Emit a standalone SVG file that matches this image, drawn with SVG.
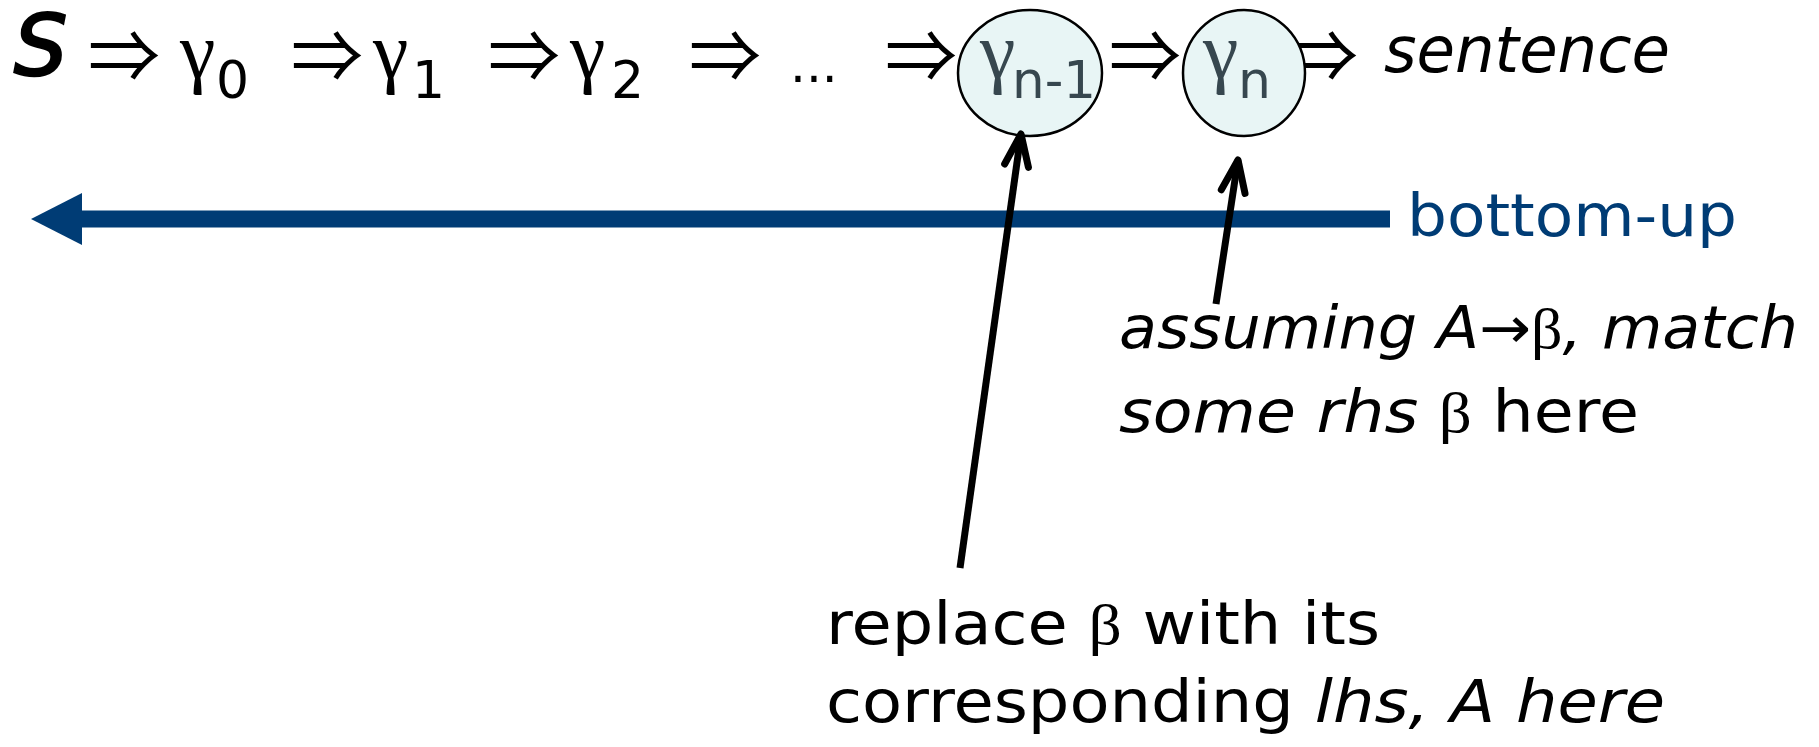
<svg xmlns="http://www.w3.org/2000/svg" width="1819" height="747" viewBox="0 0 1819 747">
<style>
.t{font-family:"DejaVu Sans",sans-serif;fill:#000}
.i{font-style:italic}
.g{font-family:"Liberation Serif","DejaVu Serif",serif}
.arr{font-family:"Noto Sans CJK JP","DejaVu Sans",sans-serif;font-size:72px;fill:#000}
.node{fill:#e8f5f5;stroke:#000;stroke-width:2.5}
.gn{fill:#37474f}
</style>
<defs>
<marker id="vh" markerUnits="userSpaceOnUse" markerWidth="80" markerHeight="80" viewBox="-40 -40 80 80" refX="0" refY="0" orient="auto">
<path d="M-32 -12 L0 0 L-32 12" fill="none" stroke="#000" stroke-width="7" stroke-linecap="round" stroke-linejoin="round"/>
</marker>
</defs>
<rect width="1819" height="747" fill="#fff"/>
<g id="derivation">
<text class="t i" x="14" y="75" font-size="84" stroke="#000" stroke-width="2.5">S</text>
<text class="arr" x="88" y="82">⇒</text>
<text class="g" x="180" y="78" font-size="80">γ</text><text class="t" x="216" y="98" font-size="52">0</text>
<text class="arr" x="291" y="82">⇒</text>
<text class="g" x="373" y="78" font-size="80">γ</text><text class="t" x="412" y="98" font-size="52">1</text>
<text class="arr" x="488" y="82">⇒</text>
<text class="g" x="570" y="78" font-size="80">γ</text><text class="t" x="611" y="98" font-size="52">2</text>
<text class="arr" x="689" y="82">⇒</text>
<text class="t" x="790" y="82" font-size="50">...</text>
<text class="arr" x="885" y="82">⇒</text>
<text class="arr" x="1109" y="82">⇒</text>
<text class="arr" x="1286" y="82">⇒</text>
<text class="t i" x="1384" y="72" font-size="64" textLength="286" lengthAdjust="spacingAndGlyphs">sentence</text>
</g>
<g id="node-gamma-n-1">
<ellipse class="node" cx="1030" cy="73" rx="72" ry="63"/>
<text class="g gn" x="980" y="78" font-size="80">γ</text><text class="t gn" x="1012" y="98" font-size="52" textLength="84" lengthAdjust="spacingAndGlyphs">n-1</text>
</g>
<g id="node-gamma-n">
<ellipse class="node" cx="1244" cy="73" rx="61" ry="63"/>
<text class="g gn" x="1203" y="78" font-size="80">γ</text><text class="t gn" x="1238" y="98" font-size="52">n</text>
</g>
<g id="bottom-up">
<line x1="1390" y1="219" x2="80" y2="219" stroke="#003c75" stroke-width="17"/>
<polygon points="31,219 82,193 82,245" fill="#003c75"/>
<text class="t" x="1407" y="236" font-size="58" style="fill:#003c75" textLength="330" lengthAdjust="spacingAndGlyphs">bottom-up</text>
</g>
<g id="connectors">
<line x1="960" y1="568" x2="1021" y2="134" stroke="#000" stroke-width="7" marker-end="url(#vh)"/>
<line x1="1216" y1="304" x2="1238" y2="160" stroke="#000" stroke-width="7" marker-end="url(#vh)"/>
</g>
<g id="label-assuming">
<text class="t" x="1119" y="348" font-size="58" textLength="679" lengthAdjust="spacingAndGlyphs"><tspan class="i">assuming A</tspan>→<tspan class="g">β</tspan><tspan class="i">, match</tspan></text>
<text class="t" x="1119" y="432" font-size="58" textLength="520" lengthAdjust="spacingAndGlyphs"><tspan class="i">some rhs </tspan><tspan class="g">β</tspan> here</text>
</g>
<g id="label-replace">
<text class="t" x="826" y="644" font-size="58" textLength="554" lengthAdjust="spacingAndGlyphs">replace <tspan class="g">β</tspan> with its</text>
<text class="t" x="826" y="722" font-size="58" textLength="839" lengthAdjust="spacingAndGlyphs">corresponding <tspan class="i">lhs, A here</tspan></text>
</g>
</svg>
